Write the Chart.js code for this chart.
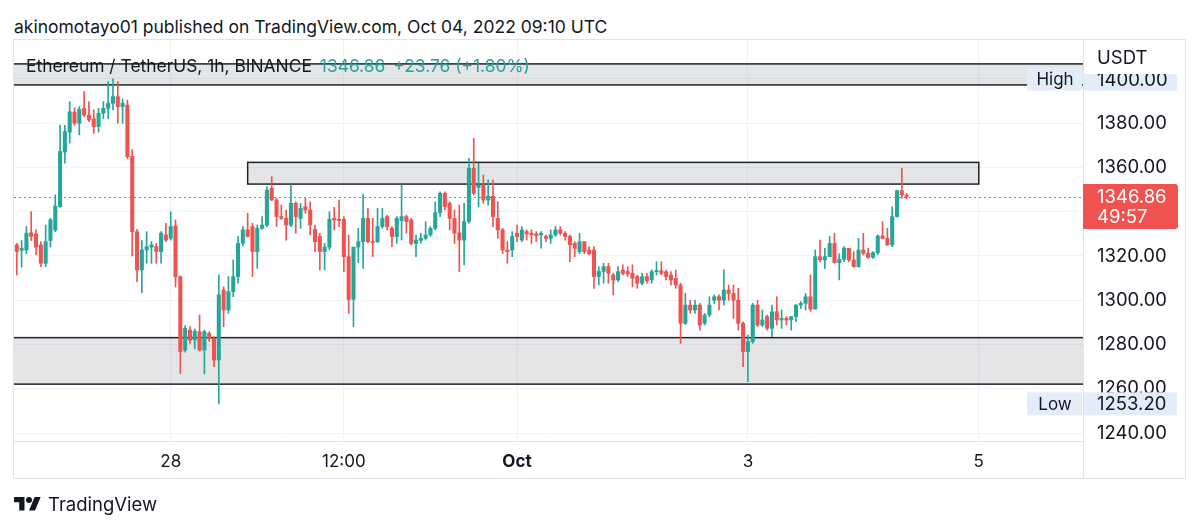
<!DOCTYPE html>
<html>
<head>
<meta charset="utf-8">
<script src="https://cdn.jsdelivr.net/npm/chart.js@4.4.1/dist/chart.umd.min.js"></script>
<style>
  body { margin: 0; background: #fff; width: 1200px; height: 530px; overflow: hidden; position: relative;
         font-family: Inter, "Noto Sans", sans-serif; color: #131722; }
  #chart { position: absolute; left: 0; top: 0; }
  #title { position: absolute; left: 14px; top: 16px; font-size: 17.5px; line-height: 22px; white-space: nowrap; }
  #legend { position: absolute; left: 26px; top: 56px; font-size: 17.4px; line-height: 20px; white-space: nowrap; }
  #legend .up { color: #26a69a; margin-left: 8px; }
  #footer { position: absolute; left: 14px; top: 493px; font-size: 18.5px; line-height: 22px; display: flex; align-items: center; }
  #footer svg { margin-right: 7px; }
</style>
</head>
<body>
<div id="title">akinomotayo01 published on TradingView.com, Oct 04, 2022 09:10 UTC</div>
<canvas id="chart" width="1200" height="530"></canvas>
<div id="legend"></div>
<div id="footer">
  <svg width="27" height="21" viewBox="0 0 36 28"><path d="M14 22H7V11H0V4h14v18zM28 22h-8l7.5-18h8L28 22z" fill="#131722"/><circle cx="20" cy="8" r="4" fill="#131722"/></svg>
  <span>TradingView</span>
</div>
<script>
// CANDLES  ETH/USDT 1h, hour 0 = Sep 28 00:00
const firstHour = -32;

const opens = [
1325.0,1322.5,1322.7,1330.5,1330.0,1325.0,1316.7,1327.0,1331.7,1342.3,
1367.0,1376.0,1385.0,1380.0,1386.7,1383.7,1382.0,1378.5,1384.5,1386.7,
1389.0,1392.0,1387.5,1388.2,1365.0,1331.0,1313.7,1322.7,1324.0,1324.2,
1322.0,1329.5,1328.0,1333.6,1310.7,1277.5,1286.5,1282.0,1285.8,1277.5,
1285.0,1282.8,1273.0,1304.6,1295.6,1303.9,1310.7,1325.7,1331.8,1333.3,
1322.0,1332.5,1334.0,1350.6,1345.3,1337.8,1337.0,1334.0,1343.8,1337.0,
1342.3,1340.8,1332.0,1328.8,1322.0,1324.0,1337.0,1336.6,1336.6,1319.7,
1300.4,1324.0,1326.5,1337.0,1326.5,1326.5,1333.3,1337.8,1332.5,1328.8,
1336.0,1337.8,1336.3,1325.7,1327.0,1328.0,1329.5,1332.5,1339.6,1348.3,
1343.8,1337.0,1330.5,1327.2,1335.5,1359.6,1351.0,1352.1,1345.3,1347.0,
1337.0,1331.8,1322.7,1322.7,1330.3,1327.2,1331.0,1330.3,1330.0,1329.5,
1328.8,1328.0,1329.5,1331.8,1330.3,1328.8,1325.7,1322.0,1326.5,1322.7,
1322.7,1310.7,1313.0,1315.2,1311.4,1309.2,1313.7,1313.0,1312.2,1310.7,
1307.7,1310.7,1309.2,1312.9,1313.3,1312.9,1311.4,1309.9,1306.9,1289.6,
1297.8,1295.6,1297.8,1289.6,1293.3,1300.0,1301.6,1300.0,1304.6,1303.1,
1300.0,1289.6,1276.8,1281.3,1297.8,1288.8,1292.6,1287.3,1294.8,1291.1,
1291.8,1291.1,1292.6,1297.8,1298.6,1301.6,1296.0,1319.7,1318.2,1319.7,
1325.7,1317.0,1318.5,1323.5,1318.2,1315.2,1322.7,1321.2,1319.4,1321.5,
1329.0,1328.0,1325.0,1337.8,1349.5,1347.6];

const highs = [
1325.7,1327.0,1333.3,1340.0,1331.8,1326.5,1334.0,1337.0,1347.6,1379.2,
1379.0,1389.8,1387.0,1387.5,1394.3,1389.8,1386.0,1386.7,1389.8,1398.8,
1400.0,1398.8,1391.0,1390.5,1368.0,1332.0,1327.0,1331.0,1326.5,1325.7,
1331.0,1334.8,1340.0,1336.3,1311.0,1288.5,1288.1,1287.0,1293.3,1286.5,
1285.8,1283.5,1311.4,1306.1,1310.7,1318.2,1328.8,1333.3,1339.3,1334.8,
1334.0,1337.8,1351.4,1355.9,1346.1,1343.0,1340.8,1352.1,1344.5,1343.8,
1346.0,1344.5,1334.0,1330.3,1325.7,1340.0,1342.0,1345.3,1337.8,1329.5,
1324.0,1332.5,1348.0,1341.5,1337.0,1341.5,1341.5,1338.5,1333.3,1337.8,
1352.1,1338.5,1337.0,1329.5,1330.3,1335.5,1333.3,1344.5,1349.0,1349.0,
1344.5,1340.8,1343.0,1343.8,1364.1,1373.2,1361.9,1356.6,1354.4,1354.4,
1344.5,1332.5,1326.5,1331.0,1334.0,1333.3,1331.8,1331.8,1331.0,1331.0,
1329.5,1331.8,1333.3,1333.3,1331.0,1329.5,1326.5,1330.3,1326.5,1324.2,
1324.2,1315.2,1316.7,1316.7,1312.2,1315.2,1316.0,1315.2,1316.0,1311.4,
1312.2,1312.2,1313.7,1317.4,1317.4,1313.7,1312.9,1313.7,1307.7,1303.1,
1300.0,1300.0,1298.6,1294.1,1301.6,1302.4,1302.4,1313.7,1306.9,1306.9,
1305.4,1290.3,1284.3,1298.6,1300.0,1295.6,1293.3,1297.8,1301.6,1295.6,
1292.6,1292.6,1298.0,1299.4,1303.1,1311.4,1322.7,1327.2,1323.5,1328.8,
1330.3,1321.0,1324.2,1323.5,1322.0,1328.0,1330.3,1323.5,1322.0,1329.5,
1335.5,1332.5,1342.3,1349.8,1359.6,1348.3];

const lows = [
1311.4,1315.0,1321.0,1327.0,1320.5,1315.2,1315.2,1324.0,1331.0,1342.0,
1361.9,1371.0,1379.0,1374.7,1383.0,1380.7,1375.4,1376.0,1382.0,1382.0,
1386.0,1380.0,1380.0,1364.0,1320.0,1308.4,1303.4,1316.7,1316.7,1316.7,
1316.7,1326.5,1327.2,1306.0,1266.9,1276.5,1280.5,1278.0,1277.0,1266.7,
1281.5,1270.0,1253.2,1288.1,1294.1,1301.6,1307.7,1324.5,1328.5,1310.7,
1314.4,1332.0,1333.3,1345.0,1333.3,1336.5,1327.2,1333.3,1330.3,1332.5,
1339.3,1329.5,1322.0,1313.7,1313.7,1322.7,1331.8,1333.3,1312.9,1294.1,
1288.1,1317.0,1314.4,1326.0,1319.7,1326.0,1332.5,1331.8,1324.2,1325.7,
1327.2,1330.3,1325.0,1319.7,1325.7,1327.2,1328.8,1331.8,1337.8,1340.8,
1331.8,1325.7,1312.9,1316.0,1334.8,1347.6,1342.3,1343.8,1343.0,1333.3,
1328.0,1321.0,1316.7,1319.7,1326.5,1326.5,1327.2,1325.7,1326.5,1323.5,
1326.5,1325.7,1328.8,1329.5,1327.2,1317.4,1319.7,1321.0,1321.0,1320.5,
1305.4,1306.9,1307.7,1307.7,1302.4,1308.4,1311.4,1310.7,1306.1,1305.4,
1306.9,1307.7,1307.7,1311.4,1311.4,1309.2,1306.9,1305.4,1280.5,1289.0,
1294.1,1294.1,1286.5,1288.8,1292.6,1298.6,1295.6,1297.8,1300.0,1291.8,
1286.5,1270.0,1263.2,1280.5,1288.1,1288.1,1286.5,1283.5,1288.8,1287.3,
1288.8,1286.5,1290.3,1296.3,1295.6,1295.0,1296.0,1317.4,1314.4,1319.7,
1316.7,1309.2,1317.4,1317.4,1314.9,1315.0,1320.5,1318.9,1318.9,1320.5,
1327.8,1324.8,1324.2,1337.5,1346.1,1345.9];

const closes = [
1322.0,1323.5,1330.3,1328.8,1324.0,1316.7,1326.5,1336.3,1342.6,1367.2,
1376.2,1385.2,1380.0,1386.3,1383.7,1381.5,1378.5,1384.5,1386.7,1389.0,
1392.0,1387.5,1389.0,1364.9,1331.0,1313.7,1322.7,1324.2,1325.0,1322.0,
1330.3,1327.2,1333.3,1310.7,1276.8,1287.3,1282.0,1286.0,1277.5,1285.8,
1282.8,1273.0,1302.4,1295.6,1303.9,1310.7,1325.7,1331.8,1328.8,1322.0,
1332.5,1334.0,1349.8,1345.3,1337.8,1337.0,1334.0,1343.8,1337.8,1341.5,
1340.8,1334.0,1326.5,1322.0,1324.0,1336.6,1336.3,1336.0,1319.7,1300.4,
1324.0,1326.5,1337.0,1326.5,1326.0,1333.3,1337.0,1333.3,1328.8,1337.0,
1337.8,1335.5,1325.7,1327.2,1328.0,1329.5,1332.5,1339.6,1348.3,1342.3,
1337.0,1330.3,1327.2,1335.5,1359.6,1348.3,1352.0,1345.3,1347.0,1337.8,
1331.8,1322.7,1322.0,1328.8,1328.8,1331.8,1330.0,1329.5,1329.2,1330.3,
1328.0,1329.5,1331.8,1330.3,1328.8,1325.0,1323.5,1326.5,1322.0,1321.0,
1310.7,1313.0,1315.2,1312.2,1309.2,1312.9,1312.2,1311.9,1309.9,1307.7,
1310.7,1308.9,1312.9,1313.4,1312.2,1310.7,1309.2,1306.9,1289.6,1297.8,
1295.6,1297.8,1288.8,1293.3,1297.8,1301.6,1300.0,1304.6,1303.1,1300.0,
1289.6,1276.8,1281.3,1297.8,1288.8,1291.1,1287.3,1294.8,1291.1,1291.8,
1291.1,1292.6,1297.8,1298.6,1301.6,1296.0,1319.7,1318.2,1319.7,1325.7,
1317.0,1318.5,1323.5,1318.2,1315.2,1322.7,1321.2,1319.4,1321.5,1329.0,
1328.0,1325.0,1337.8,1349.5,1347.6,1346.86];

const hours = opens.map((o, i) => firstHour + i);

// AXES
const timeTicks = [0, 36, 72, 120, 168];
const timeLabels = ['28', '12:00', 'Oct', '3', '5'];
const priceTicks = [1240, 1260, 1280, 1300, 1320, 1340, 1360, 1380, 1400];

// ZONES (drawn rectangles), null = runs past the chart edge
const zoneBottoms = [1397.3, 1352.5, 1262.1];
const zoneTops = [1406.8, 1362.3, 1283.1];
const zoneStarts = [null, 16, null];
const zoneEnds = [null, 168, null];

// LEGEND
const lastPrice = 1346.86;
const dayChange = 23.76;
const dayChangePct = 1.80;
const countdown = '49:57';

const UP = '#26a69a';
const DOWN = '#ef5350';
const TEXT = '#131722';
const GRID = '#f0f2f5';
const FRAME = '#e0e3eb';
const FONT = 'Inter, "Noto Sans", sans-serif';
const AXIS_FONT = '18.5px ' + FONT;

document.getElementById('legend').innerHTML =
  '<span>Ethereum / TetherUS, 1h, BINANCE</span>' +
  '<span class="up">' + lastPrice.toFixed(2) + '</span>' +
  '<span class="up">+' + dayChange.toFixed(2) + ' (+' + dayChangePct.toFixed(2) + '%)</span>';

function candleColor(i) {
  return closes[i] >= opens[i] ? UP : DOWN;
}

// DRAWINGS
const drawings = {
  id: 'drawings',
  beforeDatasetsDraw(chart) {
    const { ctx, chartArea: a, scales: { x, y } } = chart;
    ctx.save();
    ctx.beginPath();
    ctx.rect(a.left, a.top, a.right - a.left, a.bottom - a.top);
    ctx.clip();
    for (let k = 0; k < zoneTops.length; k++) {
      const x1 = zoneStarts[k] === null ? a.left - 5 : x.getPixelForValue(zoneStarts[k]);
      const x2 = zoneEnds[k] === null ? a.right + 5 : x.getPixelForValue(zoneEnds[k]);
      const y1 = y.getPixelForValue(zoneTops[k]);
      const y2 = y.getPixelForValue(zoneBottoms[k]);
      ctx.fillStyle = 'rgba(120,123,134,0.2)';
      ctx.fillRect(x1, y1, x2 - x1, y2 - y1);
      ctx.strokeStyle = '#1e222d';
      ctx.lineWidth = 1.5;
      ctx.strokeRect(x1, y1, x2 - x1, y2 - y1);
    }
    ctx.restore();
  },
  afterDatasetsDraw(chart) {
    const { ctx, chartArea: a, scales: { y } } = chart;
    const py = Math.round(y.getPixelForValue(lastPrice)) + 0.5;
    ctx.save();
    ctx.strokeStyle = '#f05a57';
    ctx.lineWidth = 1;
    ctx.setLineDash([2, 3]);
    ctx.beginPath();
    ctx.moveTo(a.left, py);
    ctx.lineTo(a.right, py);
    ctx.stroke();
    ctx.restore();
  },
  afterDraw(chart) {
    const { ctx, chartArea: a, scales: { y } } = chart;
    const axisRight = 1185;
    const axisBottom = 478;
    ctx.save();
    // empty corner under the price axis
    ctx.fillStyle = '#fff';
    ctx.fillRect(a.right + 1, a.bottom + 1, axisRight - a.right - 1, axisBottom - a.bottom - 1);

    ctx.textBaseline = 'middle';

    // high / low labels
    const marks = [[Math.max(...highs), 'High'], [Math.min(...lows), 'Low']];
    marks.forEach(([v, name]) => {
      const py = y.getPixelForValue(v);
      ctx.fillStyle = '#e3edf9';
      ctx.fillRect(1027, py - 11.5, a.right - 1027 - 1, 23);
      ctx.fillRect(a.right + 1, py - 11.5, 93, 23);
      ctx.fillStyle = TEXT;
      ctx.font = '17px ' + FONT;
      ctx.textAlign = 'center';
      ctx.fillText(name, (1027 + a.right) / 2, py + 1);
      ctx.font = AXIS_FONT;
      ctx.textAlign = 'left';
      ctx.fillText(v.toFixed(2), a.right + 14, py + 1);
    });

    // last price box
    const ly = y.getPixelForValue(lastPrice);
    ctx.fillStyle = '#f0534f';
    ctx.beginPath();
    ctx.roundRect(a.right, ly - 12.5, 95, 45, [0, 3, 3, 0]);
    ctx.fill();
    ctx.fillStyle = '#fff';
    ctx.font = AXIS_FONT;
    ctx.textAlign = 'left';
    ctx.fillText(lastPrice.toFixed(2), a.right + 14, ly + 1);
    ctx.fillText(countdown, a.right + 14, ly + 21);

    // currency header
    ctx.fillStyle = '#fff';
    ctx.fillRect(a.right + 1, a.top + 1, axisRight - a.right - 2, 33);
    ctx.fillStyle = TEXT;
    ctx.fillText('USDT', a.right + 14, a.top + 18);

    // frame
    ctx.strokeStyle = FRAME;
    ctx.lineWidth = 1;
    ctx.beginPath();
    ctx.moveTo(a.left - 0.5, a.top - 0.5);
    ctx.lineTo(axisRight + 0.5, a.top - 0.5);
    ctx.lineTo(axisRight + 0.5, axisBottom + 0.5);
    ctx.lineTo(a.left - 0.5, axisBottom + 0.5);
    ctx.closePath();
    ctx.moveTo(a.right + 0.5, a.bottom);
    ctx.lineTo(a.right + 0.5, axisBottom);
    ctx.stroke();
    ctx.restore();
  }
};

Chart.defaults.font.family = FONT;

new Chart(document.getElementById('chart'), {
  type: 'bar',
  data: {
    datasets: [
      {
        label: 'body',
        data: hours.map((h, i) => ({ x: h, y: [opens[i], closes[i]] })),
        backgroundColor: c => candleColor(c.dataIndex),
        barThickness: 3.4,
        minBarLength: 1,
        grouped: false
      },
      {
        label: 'wick',
        data: hours.map((h, i) => ({ x: h, y: [lows[i], highs[i]] })),
        backgroundColor: c => candleColor(c.dataIndex),
        barThickness: 1,
        grouped: false
      }
    ]
  },
  options: {
    responsive: false,
    animation: false,
    devicePixelRatio: 1,
    layout: { padding: { left: 14, top: 40, right: 15, bottom: 52 } },
    plugins: { legend: { display: false }, tooltip: { enabled: false } },
    scales: {
      x: {
        type: 'linear',
        min: -32.58,
        max: 189.67,
        offset: false,
        afterBuildTicks: s => { s.ticks = timeTicks.map(v => ({ value: v })); },
        afterFit: s => { s.height = 37; },
        grid: { color: GRID, drawTicks: false, offset: false },
        border: { color: FRAME },
        ticks: {
          padding: 11,
          color: TEXT,
          autoSkip: false,
          maxRotation: 0,
          font: c => ({ family: FONT, size: 17, weight: c.tick && c.tick.value === 72 ? 'bold' : 'normal' }),
          callback: (v, i) => timeLabels[i]
        }
      },
      y: {
        position: 'right',
        min: 1236.4,
        max: 1417.6,
        afterBuildTicks: s => { s.ticks = priceTicks.map(v => ({ value: v })); },
        afterFit: s => { s.width = 102; },
        grid: { color: GRID, drawTicks: false },
        border: { color: FRAME },
        ticks: {
          padding: 14,
          color: TEXT,
          font: { family: FONT, size: 18.5 },
          callback: v => v.toFixed(2)
        }
      }
    }
  },
  plugins: [drawings]
});
</script>
</body>
</html>
